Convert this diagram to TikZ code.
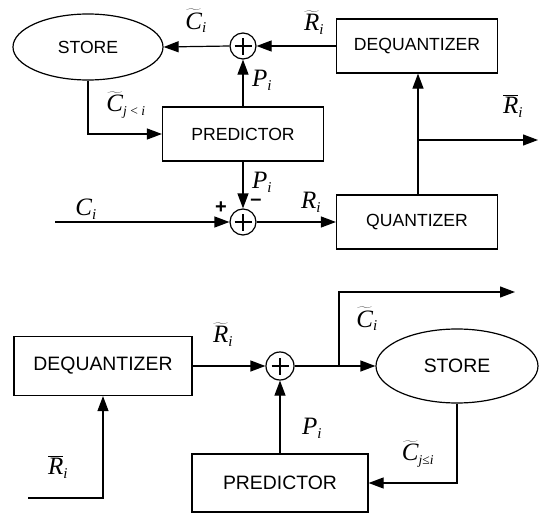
\documentclass[tikz,border=0pt]{standalone}
\usepackage{fontspec}
\setmainfont{Liberation Sans}
\newfontfamily\tms{Liberation Serif}
\usetikzlibrary{shapes.geometric,arrows.meta}
\newcommand\mv[1]{\hbox{\fontsize{25}{27}\selectfont\tms\itshape #1}}
\newcommand\sv[1]{\hbox{\fontsize{15}{15}\selectfont\tms #1}}
\newcommand\svs[1]{\hbox{\fontsize{13.5}{14}\selectfont\tms #1}}
\begin{document}
\begin{tikzpicture}[x=1pt,y=-1pt,line width=1.2pt,
  box/.style={draw,rectangle,inner sep=0pt,font=\fontsize{17.6}{20}\selectfont},
  bigbox/.style={draw,rectangle,inner sep=0pt,font=\fontsize{19.4}{22}\selectfont},
  ell/.style={draw,ellipse,inner sep=0pt},
  sumnode/.style={draw,circle,inner sep=0pt,minimum size=26pt,
    path picture={\draw[line width=1.2pt] ([xshift=-8.5pt]path picture bounding box.center) -- ([xshift=8.5pt]path picture bounding box.center);
      \draw[line width=1.2pt] ([yshift=-8.5pt]path picture bounding box.center) -- ([yshift=8.5pt]path picture bounding box.center);}},
  arr/.style={-{Triangle[length=15pt,width=11pt]}},
  lab/.style={inner sep=0pt,font=\fontsize{25}{27}\selectfont},
  sign/.style={inner sep=0pt,font=\fontsize{20}{22}\selectfont\bfseries}]
\useasboundingbox (0,0) rectangle (539,514);
% ---------- top ----------
\node[ell,minimum width=150pt,minimum height=66pt,font=\fontsize{17.6}{20}\selectfont] (st1) at (88,47) {STORE};
\node[sumnode] (s1) at (243,46) {};
\node[box,minimum width=161pt,minimum height=54pt] (dq1) at (417,46) {DEQUANTIZER};
\node[box,minimum width=161pt,minimum height=54pt] (pr1) at (243,134) {PREDICTOR};
\node[sumnode] (s2) at (243,222) {};
\node[box,minimum width=161pt,minimum height=54pt] (qu) at (417,222) {QUANTIZER};
\coordinate (br1) at (418,140);
\coordinate (o1) at (538,140);
\coordinate (i1) at (55,222);
\coordinate (k1) at (88,134);
\draw[arr] (s1.west) -- (st1.east);
\draw[arr] (dq1.west) -- (s1.east);
\draw[arr] (pr1.north) -- (s1.south);
\draw[arr] (st1.south) -- (k1) -- (pr1.west);
\draw[arr] (pr1.south) -- (s2.north);
\draw[arr] (i1) -- (s2.west);
\draw[arr] (s2.east) -- (qu.west);
\draw[arr] (qu.north -| br1) -- (dq1.south -| br1);
\draw[arr] (br1) -- (o1);
\node[lab] (lC1) at (196,21) {$\widetilde{\mv{C}}_{\sv{\itshape i}}$};
\node[lab] (lR1) at (314,23) {$\widetilde{\mv{R}}_{\sv{\itshape i}}$};
\node[lab] (lP1) at (262,80) {$\mv{P}_{\sv{\itshape i}}$};
\node[lab] (lCj) at (126,105) {$\widetilde{\mv{C}}_{\svs{\itshape j \upshape< \itshape i}}$};
\node[lab] (lRb1) at (513,106) {$\overline{\mv{R}}_{\sv{\itshape i}}$};
\node[lab] (lP2) at (262,182) {$\mv{P}_{\sv{\itshape i}}$};
\node[lab] (lCi) at (86,209) {$\mv{C}_{\sv{\itshape i}}$};
\node[lab] (lR2) at (311,202) {$\mv{R}_{\sv{\itshape i}}$};
\node[sign] (plus) at (221,208) {+};
\node[sign] (minus) at (256,202) {\textendash};
% ---------- bottom ----------
\node[bigbox,minimum width=178pt,minimum height=59pt] (dq2) at (103,366) {DEQUANTIZER};
\node[sumnode,minimum size=28pt] (s3) at (280,366) {};
\node[ell,minimum width=162pt,minimum height=74pt,font=\fontsize{19.4}{22}\selectfont] (st2) at (457,366) {STORE};
\node[bigbox,minimum width=176pt,minimum height=58pt] (pr2) at (280,483) {PREDICTOR};
\coordinate (i2) at (28,498);
\coordinate (k2) at (103,498);
\coordinate (br2) at (339,366);
\coordinate (u2) at (339,292);
\coordinate (o2) at (515,292);
\coordinate (k3) at (457,483);
\draw[arr] (dq2.east) -- (s3.west);
\draw[arr] (i2) -- (k2) -- (dq2.south);
\draw[arr] (pr2.north) -- (s3.south);
\draw[arr] (s3.east) -- (st2.west);
\draw[arr] (br2) -- (u2) -- (o2);
\draw[arr] (st2.south) -- (k3) -- (pr2.east);
\node[lab] (lR3) at (223,335) {$\widetilde{\mv{R}}_{\sv{\itshape i}}$};
\node[lab] (lRb2) at (58,467) {$\overline{\mv{R}}_{\sv{\itshape i}}$};
\node[lab] (lC3) at (367,319) {$\widetilde{\mv{C}}_{\sv{\itshape i}}$};
\node[lab] (lP3) at (312,428) {$\mv{P}_{\sv{\itshape i}}$};
\node[lab] (lCj2) at (418,454) {$\widetilde{\mv{C}}_{\svs{\itshape j\upshape≤\itshape i}}$};
\end{tikzpicture}
\end{document}
